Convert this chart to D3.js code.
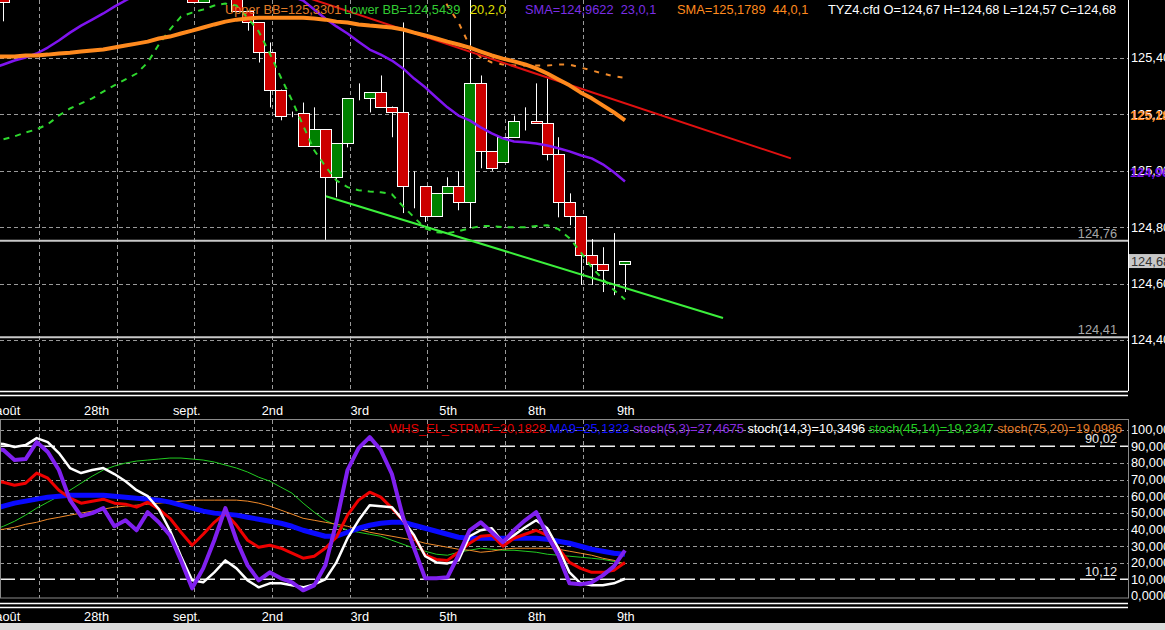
<!DOCTYPE html>
<html>
<head>
<meta charset="utf-8">
<script src="https://cdn.jsdelivr.net/npm/d3@7"></script>
<style>
html, body { margin: 0; padding: 0; background: #000; overflow: hidden; }
svg { display: block; font-family: "Liberation Sans", Arial, sans-serif; font-size: 12.8px; }
</style>
</head>
<body>
<svg id="chart" width="1165" height="630"></svg>
<script>
// Bars are numbered 0..57 from the left edge (the last bar, 9th, is 57).
var dateBars = [ 0, 8, 16, 24, 32, 40, 48, 56 ];
var dateLabels = [ 'août', '28th', 'sept.', '2nd', '3rd', '5th', '8th', '9th' ];
var gridBars = [ 4.2, 11.2, 18.2, 25.2, 32.2, 39.2, 46.2, 53.2 ];

var priceTicks = [ 125.40, 125.20, 125.00, 124.80, 124.60, 124.40 ];
var oscTicks = [ 100, 90, 80, 70, 60, 50, 40, 30, 20, 10, 0 ];
var oscTickLabels = [ '100,00', '90,000', '80,000', '70,000', '60,000', '50,000', '40,000', '30,000', '20,000', '10,000', '0,0000' ];
var oscGrid = [ 100, 80, 70, 60, 50, 40, 30, 20 ];

// Candles (only the ones that show inside the price pane).
var candleBar   = [ 1, 18, 19, 22, 23, 24, 25, 26, 27, 28, 29, 30, 31, 32, 33, 34, 35, 36, 37, 38, 39, 40, 41, 42, 43, 44, 45, 46, 47, 48, 49, 50, 51, 52, 53, 54, 55, 56, 57 ];
var candleOpen  = [ 125.64, 125.63, 125.60, 125.64, 125.568, 125.526, 125.423, 125.288, 125.200, 125.204, 125.087, 125.147, 124.977, 125.097, 125.257, 125.257, 125.278, 125.228, 125.207, 124.945, 124.945, 124.839, 124.920, 124.945, 124.888, 125.313, 125.069, 125.030, 125.119, 125.175, 125.175, 125.168, 125.058, 124.888, 124.839, 124.701, 124.669, 124.648, 124.67 ];
var candleHigh  = [ 125.66, 125.65, 125.63, 125.66, 125.568, 125.526, 125.455, 125.288, 125.210, 125.242, 125.225, 125.147, 125.097, 125.257, 125.310, 125.278, 125.338, 125.228, 125.526, 124.998, 124.945, 124.920, 124.977, 124.998, 125.610, 125.338, 125.069, 125.119, 125.196, 125.225, 125.310, 125.327, 125.119, 124.920, 124.839, 124.758, 124.729, 124.779, 124.68 ];
var candleLow   = [ 125.53, 125.60, 125.595, 125.568, 125.497, 125.384, 125.225, 125.179, 125.190, 125.087, 125.087, 124.755, 124.906, 125.083, 125.250, 125.207, 125.228, 125.119, 124.850, 124.867, 124.818, 124.839, 124.920, 124.860, 124.796, 125.009, 125.000, 125.030, 125.119, 125.143, 125.168, 125.037, 124.835, 124.807, 124.595, 124.595, 124.570, 124.559, 124.57 ];
var candleClose = [ 125.60, 125.60, 125.625, 125.568, 125.526, 125.423, 125.288, 125.196, 125.200, 125.087, 125.147, 124.977, 125.097, 125.257, 125.257, 125.278, 125.228, 125.207, 124.945, 124.945, 124.839, 124.920, 124.945, 124.888, 125.313, 125.069, 125.009, 125.119, 125.175, 125.175, 125.168, 125.058, 124.888, 124.839, 124.701, 124.669, 124.648, 124.648, 124.68 ];

// Price pane overlays, one value per bar.
var sma23 = [ 125.363, 125.377, 125.391, 125.402, 125.416, 125.437, 125.462, 125.490, 125.515, 125.536, 125.558, 125.582, 125.604, 125.625, 125.646, 125.664, 125.678, 125.689, 125.696, 125.700, 125.700, 125.696, 125.689, 125.675, 125.661, 125.646, 125.632, 125.618, 125.604, 125.572, 125.540, 125.512, 125.487, 125.458, 125.430, 125.412, 125.391, 125.363, 125.327, 125.296, 125.260, 125.225, 125.196, 125.179, 125.154, 125.133, 125.115, 125.104, 125.101, 125.097, 125.090, 125.080, 125.069, 125.055, 125.044, 125.023, 124.995, 124.962 ];
var sma44 = [ 125.405, 125.405, 125.405, 125.409, 125.409, 125.412, 125.416, 125.419, 125.423, 125.427, 125.430, 125.437, 125.444, 125.451, 125.458, 125.469, 125.476, 125.487, 125.497, 125.508, 125.519, 125.529, 125.536, 125.540, 125.543, 125.543, 125.543, 125.543, 125.543, 125.540, 125.536, 125.529, 125.526, 125.519, 125.515, 125.512, 125.508, 125.501, 125.490, 125.480, 125.469, 125.458, 125.448, 125.437, 125.423, 125.409, 125.398, 125.388, 125.377, 125.363, 125.345, 125.324, 125.303, 125.278, 125.257, 125.232, 125.207, 125.179 ];
var lowerBB = [ 125.097, 125.112, 125.122, 125.136, 125.147, 125.165, 125.196, 125.221, 125.239, 125.257, 125.281, 125.303, 125.324, 125.345, 125.384, 125.448, 125.501, 125.547, 125.561, 125.572, 125.586, 125.593, 125.586, 125.543, 125.494, 125.416, 125.331, 125.250, 125.161, 125.073, 125.016, 124.966, 124.942, 124.931, 124.927, 124.924, 124.917, 124.874, 124.835, 124.796, 124.782, 124.779, 124.786, 124.796, 124.804, 124.804, 124.800, 124.800, 124.800, 124.804, 124.807, 124.793, 124.761, 124.712, 124.658, 124.616, 124.577, 124.544 ];
var upperBB = [ null, null, null, null, null, null, null, null, null, null, null, null, null, null, null, null, null, null, null, null, null, null, null, null, null, null, null, null, null, null, null, null, null, null, null, null, null, null, null, 125.745, 125.657, 125.586, 125.526, 125.444, 125.402, 125.384, 125.377, 125.373, 125.373, 125.373, 125.373, 125.377, 125.377, 125.366, 125.356, 125.345, 125.335, 125.330 ];

// Hand-drawn trend lines: [bar, price] at each end.
var trendRedBars = [ 27.7, 71.95 ];
var trendRedPrices = [ 125.623, 125.044 ];
var trendGreenBars = [ 30.06, 65.83 ];
var trendGreenPrices = [ 124.910, 124.478 ];

var levelPrices = [ 124.752, 124.41 ];
var levelLabels = [ '124,76', '124,41' ];

// Oscillator pane, one value per bar.
var stoch5  = [ 88.9, 87.7, 81.7, 82.3, 92.5, 86.5, 75.7, 57.6, 48.0, 49.8, 52.8, 41.9, 45.5, 39.5, 50.4, 44.3, 36.5, 21.4, 4.6, 16.6, 33.5, 52.8, 33.5, 18.4, 9.4, 14.2, 10.6, 8.2, 3.4, 6.4, 18.4, 44.3, 75.7, 88.9, 95.5, 87.7, 73.3, 47.3, 28.7, 10.6, 10.6, 11.2, 24.5, 39.5, 44.3, 38.3, 32.3, 39.5, 45.5, 50.4, 36.5, 24.5, 7.6, 7.0, 8.2, 12.4, 17.8, 27.47 ];
var stoch14 = [ 91.9, 91.3, 89.5, 90.7, 94.9, 92.5, 85.9, 76.9, 73.9, 75.7, 76.9, 73.3, 69.0, 63.6, 60.0, 52.2, 39.5, 23.9, 9.4, 8.2, 14.2, 21.4, 16.6, 9.4, 5.2, 7.6, 7.6, 6.4, 5.2, 7.0, 10.0, 20.2, 34.7, 45.5, 54.6, 54.0, 53.4, 45.5, 36.5, 23.9, 20.2, 19.6, 21.4, 35.9, 39.5, 40.7, 32.3, 36.5, 41.3, 45.5, 40.7, 28.7, 14.2, 7.6, 6.4, 6.4, 7.6, 10.35 ];
var stpmt   = [ 69.0, 68.4, 66.6, 67.8, 73.9, 70.8, 63.6, 58.8, 55.8, 57.0, 58.2, 55.8, 55.2, 53.4, 56.4, 52.2, 46.7, 38.3, 30.5, 37.1, 44.3, 49.8, 42.5, 33.5, 29.3, 30.5, 28.7, 25.7, 22.7, 23.9, 28.7, 35.3, 48.6, 57.6, 62.4, 59.4, 52.8, 45.5, 35.3, 24.5, 22.0, 21.4, 26.3, 31.7, 35.9, 36.5, 29.9, 34.7, 37.1, 39.5, 36.5, 28.7, 20.2, 16.6, 14.2, 14.2, 15.4, 20.18 ];
var ma9     = [ 52.2, 54.0, 55.8, 57.0, 58.2, 59.4, 60.0, 60.6, 60.6, 60.6, 60.6, 60.0, 59.4, 58.8, 58.2, 57.6, 56.4, 54.6, 52.8, 51.0, 49.8, 49.2, 48.6, 47.3, 46.1, 44.9, 43.7, 41.9, 39.5, 37.7, 35.9, 35.9, 38.3, 40.7, 42.5, 43.7, 44.3, 44.3, 42.5, 40.7, 38.9, 37.1, 35.3, 34.7, 34.7, 34.7, 34.7, 34.7, 34.7, 34.7, 34.1, 32.9, 31.7, 29.9, 28.1, 26.9, 25.7, 25.13 ];
var stoch45 = [ 39.5, 41.9, 44.9, 48.6, 52.8, 56.4, 60.0, 63.6, 67.8, 72.0, 75.7, 78.1, 79.9, 81.1, 81.7, 82.3, 82.9, 82.9, 82.3, 81.7, 80.5, 78.7, 76.9, 74.5, 71.4, 69.0, 65.4, 61.8, 55.8, 50.4, 45.5, 42.5, 39.5, 38.3, 37.1, 35.9, 33.5, 31.1, 28.7, 26.9, 25.1, 24.5, 26.3, 27.5, 28.7, 28.1, 27.5, 27.5, 26.9, 26.3, 25.1, 24.5, 23.9, 23.3, 22.7, 22.0, 20.8, 19.23 ];
var stoch75 = [ 39.5, 40.1, 41.3, 43.1, 44.3, 46.1, 47.3, 48.6, 49.8, 51.0, 52.2, 53.4, 54.0, 54.6, 55.2, 55.8, 56.4, 57.0, 57.6, 57.6, 57.6, 57.6, 57.6, 57.0, 55.8, 54.0, 51.6, 49.2, 46.7, 45.5, 44.3, 43.1, 41.9, 40.1, 38.3, 37.1, 35.9, 34.7, 33.5, 31.7, 30.5, 29.3, 28.1, 27.5, 26.3, 26.9, 28.1, 28.7, 28.7, 28.7, 28.7, 28.1, 26.9, 25.7, 24.5, 22.7, 21.4, 19.10 ];
var oscLevels = [ 90.02, 10.12 ];
var oscLevelLabels = [ '90,02', '10,12' ];

var topLegendText = [ 'Upper BB=125,3301', 'Lower BB=124,5439', '20,2,0', 'SMA=124,9622  23,0,1', 'SMA=125,1789  44,0,1', 'TYZ4.cfd O=124,67 H=124,68 L=124,57 C=124,68' ];
var topLegendX = [ 225, 344, 470, 525, 677, 828 ];
var topLegendColor = [ '#e07a26', '#33cc33', '#e0e000', '#7a2ee6', '#ff8a1e', '#ffffff' ];

var oscLegendText = [ 'WHS_EL_STPMT=20,1828', 'MA9=25,1323', 'stoch(5,3)=27,4675', 'stoch(14,3)=10,3496', 'stoch(45,14)=19,2347', 'stoch(75,20)=19,0986' ];
var oscLegendColor = [ '#e00000', '#1010ff', '#8a2be2', '#ffffff', '#22cc22', '#e07a26' ];

( function () {

	var svg = d3.select( '#chart' );
	var plotRight = 1128;

	var x = d3.scaleLinear().domain( [ 0, 57 ] ).range( [ -7.7, 625 ] );
	var yMain = d3.scaleLinear().domain( [ 124.40, 125.40 ] ).range( [ 340, 58 ] );
	var yOsc = d3.scaleLinear().domain( [ 0, 100 ] ).range( [ 596, 429.6 ] );
	var step = x( 1 ) - x( 0 );
	var comma = function ( v ) { return d3.format( '.2f' )( v ).replace( '.', ',' ); };

	svg.append( 'rect' ).attr( 'width', 1165 ).attr( 'height', 630 ).attr( 'fill', '#000' );

	var defs = svg.append( 'defs' );
	defs.append( 'clipPath' ).attr( 'id', 'clipMain' ).append( 'rect' )
		.attr( 'x', 0 ).attr( 'y', 0 ).attr( 'width', plotRight ).attr( 'height', 390 );
	defs.append( 'clipPath' ).attr( 'id', 'clipOsc' ).append( 'rect' )
		.attr( 'x', 0 ).attr( 'y', 420 ).attr( 'width', plotRight ).attr( 'height', 178 );

	// ---- Price pane ----
	var main = svg.append( 'g' ).attr( 'clip-path', 'url(#clipMain)' );

	main.selectAll( 'line.hgrid' ).data( priceTicks ).enter().append( 'line' )
		.attr( 'x1', 0 ).attr( 'x2', plotRight )
		.attr( 'y1', function ( d ) { return Math.round( yMain( d ) ) + 0.5; } )
		.attr( 'y2', function ( d ) { return Math.round( yMain( d ) ) + 0.5; } )
		.attr( 'stroke', '#9a9a9a' ).attr( 'stroke-dasharray', '4,3' );

	main.selectAll( 'line.vgrid' ).data( gridBars ).enter().append( 'line' )
		.attr( 'x1', function ( d ) { return Math.round( x( d ) ) + 0.5; } )
		.attr( 'x2', function ( d ) { return Math.round( x( d ) ) + 0.5; } )
		.attr( 'y1', 0 ).attr( 'y2', 390 )
		.attr( 'stroke', '#9a9a9a' ).attr( 'stroke-dasharray', '4,3' );

	// Horizontal support levels.
	main.selectAll( 'line.level' ).data( levelPrices ).enter().append( 'line' )
		.attr( 'x1', 0 ).attr( 'x2', plotRight )
		.attr( 'y1', function ( d ) { return yMain( d ); } )
		.attr( 'y2', function ( d ) { return yMain( d ); } )
		.attr( 'stroke', '#c8c8c8' ).attr( 'stroke-width', 2 );

	main.selectAll( 'text.level' ).data( levelPrices ).enter().append( 'text' )
		.attr( 'x', 1117 ).attr( 'y', function ( d ) { return yMain( d ) - 3; } )
		.attr( 'text-anchor', 'end' ).attr( 'fill', '#a8a8a8' )
		.text( function ( d, i ) { return levelLabels[i]; } );

	// Candles: wick first, then the body with a white outline.
	var candles = main.selectAll( 'g.candle' ).data( candleBar ).enter().append( 'g' );

	candles.append( 'line' )
		.attr( 'x1', function ( d ) { return Math.round( x( d ) ) + 0.5; } )
		.attr( 'x2', function ( d ) { return Math.round( x( d ) ) + 0.5; } )
		.attr( 'y1', function ( d, i ) { return yMain( candleHigh[i] ); } )
		.attr( 'y2', function ( d, i ) { return yMain( candleLow[i] ); } )
		.attr( 'stroke', '#fff' );

	candles.append( 'rect' )
		.attr( 'x', function ( d ) { return Math.round( x( d ) - step / 2 ) + 0.5; } )
		.attr( 'width', Math.round( step ) )
		.attr( 'y', function ( d, i ) { return Math.round( yMain( Math.max( candleOpen[i], candleClose[i] ) ) ) + 0.5; } )
		.attr( 'height', function ( d, i ) {
			return Math.max( 0, Math.round( yMain( Math.min( candleOpen[i], candleClose[i] ) ) ) - Math.round( yMain( Math.max( candleOpen[i], candleClose[i] ) ) ) );
		} )
		.attr( 'fill', function ( d, i ) { return candleClose[i] >= candleOpen[i] ? '#008000' : '#cc0000'; } )
		.attr( 'stroke', '#fff' );

	var priceLine = function () {
		return d3.line()
			.defined( function ( d ) { return d !== null; } )
			.x( function ( d, i ) { return x( i ); } )
			.y( function ( d ) { return yMain( d ); } );
	};

	main.append( 'path' ).datum( lowerBB )
		.attr( 'd', priceLine() ).attr( 'fill', 'none' )
		.attr( 'stroke', '#2ed82e' ).attr( 'stroke-width', 2 ).attr( 'stroke-dasharray', '6,6' );

	main.append( 'path' ).datum( upperBB )
		.attr( 'd', priceLine() ).attr( 'fill', 'none' )
		.attr( 'stroke', '#f08a2a' ).attr( 'stroke-width', 2 ).attr( 'stroke-dasharray', '5,7' );

	main.append( 'path' ).datum( sma23 )
		.attr( 'd', priceLine() ).attr( 'fill', 'none' )
		.attr( 'stroke', '#7f14f0' ).attr( 'stroke-width', 2.5 ).attr( 'stroke-linejoin', 'round' );

	// Trend lines.
	var trend = d3.line()
		.x( function ( d ) { return x( d[0] ); } )
		.y( function ( d ) { return yMain( d[1] ); } );

	main.append( 'path' ).datum( d3.zip( trendRedBars, trendRedPrices ) )
		.attr( 'd', trend ).attr( 'fill', 'none' )
		.attr( 'stroke', '#e01010' ).attr( 'stroke-width', 2 );

	main.append( 'path' ).datum( sma44 )
		.attr( 'd', priceLine() ).attr( 'fill', 'none' )
		.attr( 'stroke', '#ff8a1e' ).attr( 'stroke-width', 4 ).attr( 'stroke-linejoin', 'round' );

	main.append( 'path' ).datum( d3.zip( trendGreenBars, trendGreenPrices ) )
		.attr( 'd', trend ).attr( 'fill', 'none' )
		.attr( 'stroke', '#3cf03c' ).attr( 'stroke-width', 2 );

	// Legend along the top of the price pane.
	svg.selectAll( 'text.topLegend' ).data( topLegendText ).enter().append( 'text' )
		.attr( 'x', function ( d, i ) { return topLegendX[i]; } )
		.attr( 'y', 14 )
		.attr( 'fill', function ( d, i ) { return topLegendColor[i]; } )
		.attr( 'xml:space', 'preserve' )
		.style( 'white-space', 'pre' )
		.text( function ( d ) { return d; } );

	// Right-hand price axis.
	svg.append( 'line' ).attr( 'x1', plotRight + 0.5 ).attr( 'x2', plotRight + 0.5 )
		.attr( 'y1', 0 ).attr( 'y2', 391 ).attr( 'stroke', '#fff' );

	svg.selectAll( 'text.price' ).data( priceTicks ).enter().append( 'text' )
		.attr( 'x', 1131 ).attr( 'y', function ( d ) { return yMain( d ); } )
		.attr( 'dy', '0.35em' ).attr( 'fill', '#fff' )
		.text( comma );

	// Coloured labels for the two moving averages.
	svg.append( 'text' ).attr( 'x', 1130 ).attr( 'y', yMain( sma44[57] ) - 5 )
		.attr( 'dy', '0.35em' ).attr( 'fill', '#ff8a1e' ).attr( 'font-weight', 'bold' )
		.text( comma( sma44[57] ) );
	svg.append( 'text' ).attr( 'x', 1130 ).attr( 'y', yMain( sma23[57] ) - 9 )
		.attr( 'dy', '0.35em' ).attr( 'fill', '#7f14f0' ).attr( 'font-weight', 'bold' )
		.text( comma( sma23[57] ) );

	// Last price box.
	var last = candleClose[candleClose.length - 1];
	svg.append( 'rect' ).attr( 'x', 1129 ).attr( 'y', yMain( last ) - 7 )
		.attr( 'width', 36 ).attr( 'height', 14 ).attr( 'fill', '#c8c8c8' );
	svg.append( 'text' ).attr( 'x', 1131 ).attr( 'y', yMain( last ) )
		.attr( 'dy', '0.35em' ).attr( 'fill', '#333' ).text( comma( last ) );

	// Separators and date strips.
	[ 391, 395, 603, 607 ].forEach( function ( yy ) {
		svg.append( 'line' ).attr( 'x1', 0 ).attr( 'x2', plotRight ).attr( 'y1', yy + 0.5 ).attr( 'y2', yy + 0.5 )
			.attr( 'stroke', '#fff' ).attr( 'stroke-width', 1.5 );
	} );

	[ 415, 621 ].forEach( function ( yy ) {
		svg.selectAll( null ).data( dateBars ).enter().append( 'text' )
			.attr( 'x', function ( d ) { return x( d ) + 3; } )
			.attr( 'y', yy ).attr( 'fill', '#fff' )
			.text( function ( d, i ) { return dateLabels[i]; } );
	} );

	// ---- Oscillator pane ----
	var osc = svg.append( 'g' ).attr( 'clip-path', 'url(#clipOsc)' );

	osc.selectAll( 'line.hgrid' ).data( oscGrid ).enter().append( 'line' )
		.attr( 'x1', 0 ).attr( 'x2', plotRight )
		.attr( 'y1', function ( d ) { return Math.round( yOsc( d ) ) + 0.5; } )
		.attr( 'y2', function ( d ) { return Math.round( yOsc( d ) ) + 0.5; } )
		.attr( 'stroke', '#9a9a9a' ).attr( 'stroke-dasharray', '4,3' );

	osc.selectAll( 'line.vgrid' ).data( gridBars ).enter().append( 'line' )
		.attr( 'x1', function ( d ) { return Math.round( x( d ) ) + 0.5; } )
		.attr( 'x2', function ( d ) { return Math.round( x( d ) ) + 0.5; } )
		.attr( 'y1', 420 ).attr( 'y2', 598 )
		.attr( 'stroke', '#9a9a9a' ).attr( 'stroke-dasharray', '4,3' );

	osc.selectAll( 'line.level' ).data( oscLevels ).enter().append( 'line' )
		.attr( 'x1', 0 ).attr( 'x2', plotRight )
		.attr( 'y1', function ( d ) { return yOsc( d ); } )
		.attr( 'y2', function ( d ) { return yOsc( d ); } )
		.attr( 'stroke', '#f0f0f0' ).attr( 'stroke-width', 1.5 ).attr( 'stroke-dasharray', '15,5' );

	osc.selectAll( 'text.level' ).data( oscLevels ).enter().append( 'text' )
		.attr( 'x', 1117 ).attr( 'y', function ( d ) { return yOsc( d ) - 3; } )
		.attr( 'text-anchor', 'end' ).attr( 'fill', '#e8e8e8' )
		.text( function ( d, i ) { return oscLevelLabels[i]; } );

	var oscLine = d3.line()
		.x( function ( d, i ) { return x( i ); } )
		.y( function ( d ) { return yOsc( d ); } );

	var oscSeries = [
		{ values: stoch45, color: '#22cc22', width: 1 },
		{ values: stoch75, color: '#f08a2a', width: 1 },
		{ values: ma9, color: '#0a0aff', width: 5 },
		{ values: stpmt, color: '#ee0000', width: 3 },
		{ values: stoch14, color: '#ffffff', width: 2.5 },
		{ values: stoch5, color: '#8020f0', width: 4 }
	];

	oscSeries.forEach( function ( s ) {
		osc.append( 'path' ).datum( s.values )
			.attr( 'd', oscLine ).attr( 'fill', 'none' )
			.attr( 'stroke', s.color ).attr( 'stroke-width', s.width )
			.attr( 'stroke-linejoin', 'round' );
	} );

	// Legend sits on the 100 gridline, right-aligned.
	var oscLegend = svg.append( 'text' ).attr( 'x', 1122 ).attr( 'y', 433 ).attr( 'text-anchor', 'end' );
	oscLegendText.forEach( function ( t, i ) {
		oscLegend.append( 'tspan' ).attr( 'fill', oscLegendColor[i] ).text( ( i > 0 ? ' ' : '' ) + t );
	} );

	svg.append( 'rect' ).attr( 'x', 0.5 ).attr( 'y', 419.5 ).attr( 'width', plotRight ).attr( 'height', 178.5 )
		.attr( 'fill', 'none' ).attr( 'stroke', '#8a8a8a' );

	svg.selectAll( 'text.osc' ).data( oscTicks ).enter().append( 'text' )
		.attr( 'x', 1131 ).attr( 'y', function ( d ) { return yOsc( d ); } )
		.attr( 'dy', '0.35em' ).attr( 'fill', '#fff' )
		.text( function ( d, i ) { return oscTickLabels[i]; } );

	// Status strip at the very bottom.
	svg.append( 'rect' ).attr( 'x', 0 ).attr( 'y', 623 ).attr( 'width', 1165 ).attr( 'height', 7 ).attr( 'fill', '#dcdcdc' );

} )();
</script>
</body>
</html>
